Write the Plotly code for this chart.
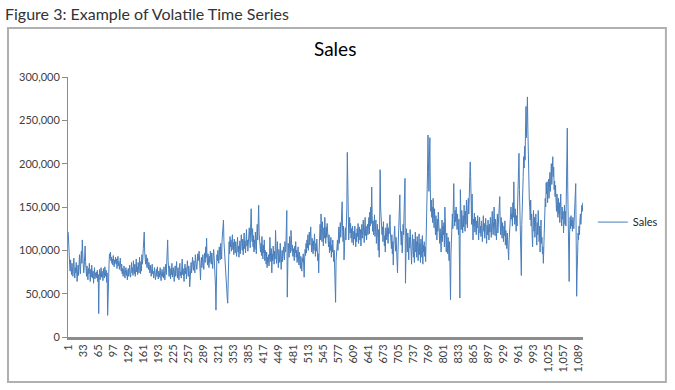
import plotly.graph_objects as go

# Sales values in thousands (index 1..1098)
sales_0001_0100 = [121, 96, 88, 84, 76, 89, 80, 72, 85, 78, 70, 82, 91, 76, 68, 80, 74, 86, 79, 64,
                   75, 83, 71, 88, 95, 80, 73, 90, 99, 85, 112, 96, 84, 74, 80, 92, 105, 87, 77, 70,
                   82, 76, 66, 79, 73, 85, 71, 64, 78, 69, 83, 74, 68, 76, 62, 72, 80, 67, 74, 70,
                   75, 68, 77, 64, 72, 27, 70, 78, 66, 74, 80, 69, 76, 73, 65, 79, 72, 68, 81, 75,
                   70, 77, 63, 74, 25, 58, 72, 84, 96, 91, 98, 88, 92, 85, 90, 83, 94, 87, 81, 89]
sales_0101_0200 = [86, 92, 84, 90, 79, 88, 93, 82, 87, 78, 85, 91, 80, 76, 84, 73, 79, 70, 77, 82,
                   72, 68, 75, 80, 71, 77, 66, 74, 79, 70, 76, 83, 72, 69, 78, 86, 74, 80, 71, 88,
                   77, 73, 84, 70, 79, 90, 75, 81, 72, 86, 78, 74, 92, 80, 73, 87, 76, 95, 84, 90,
                   102, 110, 121, 98, 92, 84, 95, 88, 80, 91, 85, 78, 86, 80, 74, 83, 77, 70, 79, 84,
                   73, 76, 68, 75, 80, 71, 66, 74, 78, 70, 81, 72, 67, 76, 69, 74, 80, 71, 65, 73]
sales_0201_0300 = [78, 70, 75, 68, 81, 73, 66, 77, 84, 72, 90, 98, 112, 88, 76, 70, 82, 74, 67, 79,
                   72, 85, 69, 76, 80, 71, 64, 75, 82, 70, 77, 87, 73, 68, 80, 74, 66, 78, 85, 71,
                   75, 68, 82, 90, 72, 79, 70, 64, 77, 84, 73, 80, 67, 75, 88, 78, 70, 82, 76, 58,
                   72, 80, 86, 74, 79, 92, 83, 77, 88, 80, 74, 95, 85, 90, 78, 84, 96, 88, 93, 99,
                   90, 82, 66, 85, 92, 80, 87, 95, 84, 78, 89, 97, 86, 104, 92, 114, 90, 83, 96, 88]
sales_0301_0400 = [80, 93, 86, 99, 90, 84, 97, 88, 79, 92, 101, 94, 86, 72, 58, 31, 82, 95, 88, 100,
                   92, 85, 104, 96, 89, 108, 98, 90, 112, 118, 127, 135, 110, 98, 90, 82, 74, 66, 55, 45,
                   39, 78, 102, 110, 96, 116, 104, 112, 99, 108, 118, 101, 109, 95, 113, 104, 97, 110, 100, 93,
                   107, 115, 98, 105, 92, 101, 111, 96, 104, 118, 108, 100, 113, 95, 106, 120, 102, 111, 97, 116,
                   124, 105, 112, 99, 118, 108, 126, 114, 103, 131, 148, 120, 110, 125, 104, 117, 98, 112, 101, 121]
sales_0401_0500 = [109, 96, 118, 130, 112, 128, 152, 120, 105, 113, 98, 108, 94, 116, 102, 90, 106, 97, 112, 88,
                   100, 93, 84, 98, 80, 92, 86, 95, 82, 90, 115, 98, 87, 102, 74, 96, 88, 105, 93, 84,
                   99, 90, 123, 104, 85, 97, 110, 92, 80, 101, 95, 86, 108, 97, 78, 91, 100, 87, 94, 104,
                   96, 89, 110, 98, 102, 125, 146, 46, 95, 108, 100, 92, 116, 104, 97, 123, 112, 99, 106, 93,
                   102, 95, 88, 105, 97, 110, 92, 100, 86, 94, 104, 90, 83, 98, 88, 79, 93, 85, 76, 91]
sales_0501_0600 = [87, 96, 80, 69, 90, 101, 94, 108, 97, 112, 103, 118, 100, 110, 121, 106, 116, 127, 109, 98,
                   114, 103, 96, 111, 100, 119, 105, 93, 108, 99, 113, 102, 88, 96, 74, 100, 118, 130, 112, 142,
                   125, 110, 133, 118, 105, 126, 114, 138, 120, 108, 127, 115, 131, 120, 112, 104, 118, 97, 110, 100,
                   115, 92, 106, 98, 112, 96, 87, 100, 82, 40, 40, 88, 105, 96, 112, 100, 118, 127, 108, 120,
                   132, 115, 124, 140, 156, 122, 110, 128, 89, 104, 118, 126, 112, 135, 150, 213, 160, 118, 112, 126]
sales_0601_0700 = [138, 120, 131, 114, 125, 109, 128, 118, 106, 122, 113, 128, 117, 104, 120, 110, 125, 116, 131, 108,
                   119, 127, 112, 124, 105, 118, 130, 114, 122, 135, 120, 109, 126, 138, 117, 128, 112, 121, 130, 118,
                   124, 138, 119, 144, 128, 150, 131, 173, 140, 122, 134, 118, 128, 141, 116, 125, 135, 108, 121, 130,
                   115, 100, 124, 92, 134, 193, 150, 128, 139, 118, 127, 110, 133, 121, 105, 117, 98, 126, 112, 121,
                   131, 115, 108, 126, 119, 133, 141, 120, 112, 102, 118, 96, 110, 83, 106, 120, 128, 112, 99, 115]
sales_0701_0800 = [92, 104, 74, 98, 112, 126, 140, 164, 128, 115, 106, 122, 97, 110, 130, 118, 142, 160, 183, 62,
                   108, 125, 114, 98, 120, 109, 89, 115, 103, 124, 96, 112, 84, 106, 118, 100, 92, 113, 86, 104,
                   121, 98, 110, 92, 116, 104, 88, 101, 119, 95, 108, 86, 113, 100, 92, 117, 84, 106, 98, 110,
                   93, 104, 87, 112, 135, 150, 190, 233, 175, 168, 205, 230, 170, 145, 158, 138, 150, 132, 160, 142,
                   126, 148, 135, 118, 140, 128, 112, 136, 122, 144, 130, 116, 108, 125, 112, 98, 120, 135, 110, 128]
sales_0801_0900 = [118, 132, 104, 150, 126, 112, 98, 120, 108, 96, 115, 102, 88, 110, 72, 43, 96, 118, 130, 142,
                   125, 160, 177, 140, 128, 146, 133, 150, 138, 124, 142, 130, 118, 136, 110, 45, 170, 138, 124, 146,
                   132, 120, 140, 127, 152, 135, 122, 145, 130, 158, 138, 126, 148, 160, 142, 175, 168, 202, 185, 150,
                   130, 165, 142, 112, 136, 128, 143, 121, 138, 130, 118, 134, 126, 140, 122, 112, 130, 138, 120, 128,
                   116, 134, 125, 110, 128, 140, 122, 131, 114, 126, 137, 120, 108, 129, 118, 135, 124, 112, 130, 121]
sales_0901_1000 = [138, 126, 115, 132, 145, 124, 118, 133, 150, 128, 117, 136, 125, 112, 130, 142, 120, 135, 127, 148,
                   162, 130, 118, 138, 126, 114, 132, 121, 110, 128, 117, 134, 106, 123, 115, 102, 120, 108, 98, 89,
                   112, 125, 138, 130, 150, 136, 142, 128, 155, 138, 179, 145, 130, 148, 136, 122, 140, 128, 150, 165,
                   185, 212, 170, 140, 120, 96, 71, 130, 165, 182, 185, 208, 195, 220, 204, 240, 266, 230, 250, 277,
                   239, 190, 172, 158, 150, 135, 158, 128, 142, 118, 104, 130, 146, 122, 138, 115, 128, 142, 120, 106]
sales_1001_1098 = [132, 118, 146, 124, 110, 128, 98, 120, 135, 108, 115, 96, 104, 85, 112, 128, 145, 160, 150, 178,
                   165, 179, 155, 170, 182, 160, 175, 190, 168, 185, 200, 176, 192, 208, 185, 196, 170, 180, 162, 175,
                   158, 145, 165, 150, 138, 160, 142, 155, 132, 148, 165, 140, 128, 150, 136, 145, 120, 138, 152, 130,
                   145, 128, 160, 190, 241, 170, 140, 110, 64, 120, 138, 125, 140, 128, 135, 122, 138, 130, 125, 140,
                   132, 150, 177, 110, 47, 75, 95, 120, 112, 128, 118, 135, 142, 130, 148, 152, 145, 155]

sales_k = (sales_0001_0100 + sales_0101_0200 + sales_0201_0300 + sales_0301_0400 + sales_0401_0500
           + sales_0501_0600 + sales_0601_0700 + sales_0701_0800 + sales_0801_0900 + sales_0901_1000
           + sales_1001_1098)
sales = [v * 1000 for v in sales_k]
periods = list(range(1, len(sales) + 1))

x_tick_vals = list(range(1, len(sales) + 1, 32))
x_tick_text = [f"{v:,}" for v in x_tick_vals]
y_tick_vals = [0, 50000, 100000, 150000, 200000, 250000, 300000]

fig_title = "Figure 3: Example of Volatile Time Series"
chart_title = "Sales"
series_name = "Sales"

FONT = "Lato, 'Open Sans', sans-serif"

fig = go.Figure()
fig.add_trace(go.Scatter(
    x=periods, y=sales, mode="lines", name=series_name,
    line=dict(color="#4a7ebb", width=1),
))

fig.update_layout(
    width=675, height=390,
    margin=dict(l=68, r=92, t=77, b=53, autoexpand=False),
    paper_bgcolor="white", plot_bgcolor="white",
    font=dict(family=FONT, color="#404040", size=11),
    showlegend=True,
    legend=dict(x=1.019, y=0.442, xanchor="left", yanchor="middle",
                font=dict(size=11, color="#262626"), bgcolor="rgba(0,0,0,0)"),
    xaxis=dict(
        range=[0.5, len(sales) + 0.5],
        tickmode="array", tickvals=x_tick_vals, ticktext=x_tick_text,
        tickangle=-90, showgrid=False, zeroline=False,
        showline=True, linecolor="#8c8c8c", linewidth=3,
        ticks="", tickfont=dict(size=11, color="#404040"),
    ),
    yaxis=dict(
        range=[0, 300000], tickvals=y_tick_vals, tickformat=",",
        showgrid=False, zeroline=False,
        showline=True, linecolor="#8c8c8c", linewidth=1,
        ticks="outside", ticklen=5, tickcolor="#8c8c8c",
        tickfont=dict(size=11, color="#404040"),
    ),
    shapes=[dict(type="rect", xref="paper", yref="paper",
                 x0=-0.1165, x1=1.161, y0=-0.173, y1=1.188,
                 line=dict(color="#b0b0b0", width=2), fillcolor="rgba(0,0,0,0)", layer="below")],
    annotations=[
        dict(text=fig_title, xref="paper", yref="paper", x=-0.127, y=1.245,
             xanchor="left", yanchor="middle", showarrow=False,
             font=dict(family=FONT, size=16, color="#333333")),
        dict(text=chart_title, xref="paper", yref="paper", x=0.518, y=1.11,
             xanchor="center", yanchor="middle", showarrow=False,
             font=dict(family=FONT, size=19, color="#000000")),
    ],
)

fig.write_html("out.html", config={"displayModeBar": False},
               post_script="document.body.style.margin='0';")
